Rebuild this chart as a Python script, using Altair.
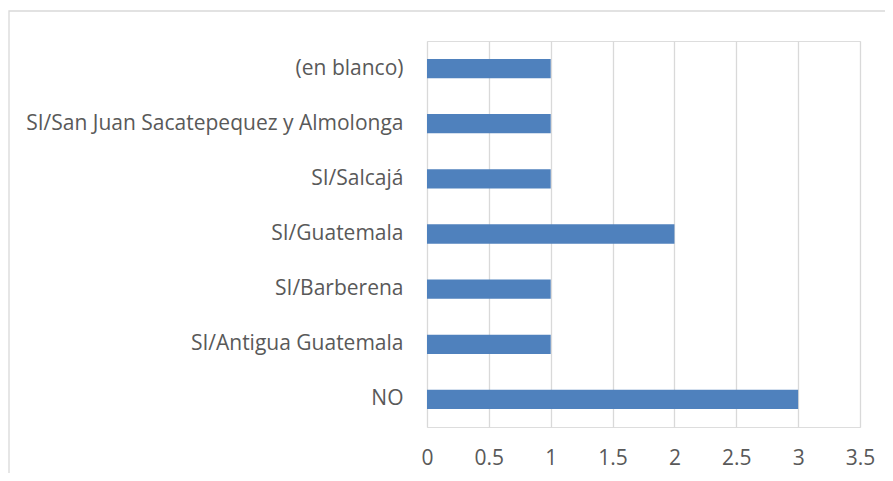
import altair as alt
import pandas as pd

categories = [
    "(en blanco)",
    "SI/San Juan Sacatepequez y Almolonga",
    "SI/Salcajá",
    "SI/Guatemala",
    "SI/Barberena",
    "SI/Antigua Guatemala",
    "NO",
]
values = [1, 1, 1, 2, 1, 1, 3]
x_ticks = [0, 0.5, 1, 1.5, 2, 2.5, 3, 3.5]

df = pd.DataFrame({"cat": categories, "val": values})

FONT = "Open Sans"
FS = 21
W, H = 433, 386

bars = alt.Chart(df).mark_bar(color="#4F81BD").encode(
    y=alt.Y(
        "cat:N",
        sort=categories,
        scale=alt.Scale(paddingInner=0.65, paddingOuter=0.325),
        axis=alt.Axis(
            title=None,
            ticks=False,
            domain=False,
            labelFontSize=FS,
            labelFont=FONT,
            labelColor="#595959",
            labelPadding=24,
            labelLimit=500,
        ),
    ),
    x=alt.X(
        "val:Q",
        scale=alt.Scale(domain=[0, 3.5], nice=False),
        axis=alt.Axis(
            title=None,
            values=x_ticks,
            ticks=False,
            domain=False,
            grid=True,
            gridColor="#d9d9d9",
            gridWidth=1.3,
            labelFontSize=FS,
            labelFont=FONT,
            labelColor="#595959",
            labelPadding=20,
            labelFlush=False,
            format="~g",
        ),
    ),
)

border = alt.Chart(pd.DataFrame({"k": [0]})).mark_rect(
    fill=None, stroke="#d9d9d9", strokeWidth=1.3
).encode(
    x=alt.value(-418), x2=alt.value(W + 60),
    y=alt.value(-30), y2=alt.value(H + 80),
)

chart = alt.layer(border, bars).properties(
    width=W,
    height=H,
    autosize=alt.AutoSizeParams(type="none"),
    padding={"left": 419, "top": 33, "right": 25, "bottom": 46},
).configure_view(stroke=None).configure(background="white")

chart.save("out.html", embed_options={"renderer": "svg", "actions": False})
